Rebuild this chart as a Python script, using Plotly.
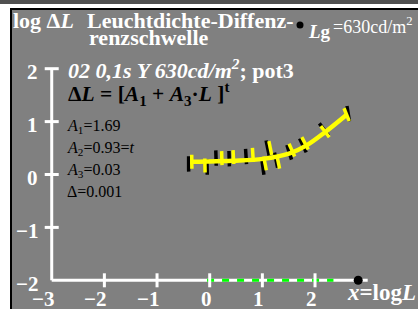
import numpy as np
import plotly.graph_objects as go

W, H = 418, 309

# ---------------- data ----------------
curve_x = [-0.37, -0.06, 0.44, 1.01, 1.52, 1.84, 2.19, 2.60]
curve_y = [0.24, 0.245, 0.26, 0.295, 0.40, 0.55, 0.80, 1.13]

yellow_x = [-0.34, -0.09, 0.23, 0.45, 0.82, 1.05, 1.15, 1.30, 1.56, 1.81, 2.19, 2.60]
yellow_y = [0.24, 0.17, 0.31, 0.33, 0.37, 0.21, 0.50, 0.24, 0.46, 0.59, 0.81, 1.13]

black_x = [-0.40, -0.05, 0.12, 0.37, 0.69, 1.01, 1.10, 1.26, 1.51, 1.77, 2.17, 2.63]
black_y = [0.20, 0.14, 0.31, 0.30, 0.34, 0.14, 0.50, 0.27, 0.42, 0.55, 0.85, 1.15]

x_ticks = [-3, -2, -1, 0, 1, 2]
x_tick_labels = ["−3", "−2", "−1", "0", "1", "2"]
y_ticks = [2, 1, 0, -1, -2]
y_tick_labels = ["2", "1", "0", "−1", "−2"]

axis_x_span = [-3, 3]
axis_y_span = [-2, 2]
green_x = [-0.05, 2.35]
axis_dot_x = [2.82]

# ---------------- geometry helpers ----------------
X0_PX, X_UNIT = 209.7, 52.66
Y0_PX, Y_UNIT = 174.5, 52.9
x_range = [(0 - X0_PX) / X_UNIT, (W - X0_PX) / X_UNIT]
y_range = [(Y0_PX - H) / Y_UNIT, (Y0_PX - 0) / Y_UNIT]


def px(x):
    return x / W


def py(y):
    return 1 - y / H


FONT = "Liberation Serif, Times New Roman, serif"
GRAY = "#808080"

fig = go.Figure()

# axis lines
base_y = axis_y_span[0]
fig.add_trace(go.Scatter(x=axis_x_span, y=[base_y, base_y], mode="lines",
                         line=dict(color="white", width=3), hoverinfo="skip"))
fig.add_trace(go.Scatter(x=[axis_x_span[0], axis_x_span[0]], y=axis_y_span, mode="lines",
                         line=dict(color="white", width=3), hoverinfo="skip"))
# green dashed range
fig.add_trace(go.Scatter(x=green_x, y=[base_y, base_y], mode="lines",
                         line=dict(color="#00ff00", width=3, dash="7px,8px"), hoverinfo="skip"))
# ticks
fig.add_trace(go.Scatter(x=x_ticks[1:], y=[base_y] * (len(x_ticks) - 1), mode="markers",
                         marker=dict(symbol="line-ns", size=10, line=dict(color="white", width=3)),
                         hoverinfo="skip"))
fig.add_trace(go.Scatter(x=[axis_x_span[0]] * (len(y_ticks) - 1), y=y_ticks[:-1], mode="markers",
                         marker=dict(symbol="line-ew", size=10, line=dict(color="white", width=3)),
                         hoverinfo="skip"))
# end dot
fig.add_trace(go.Scatter(x=axis_dot_x, y=[base_y], mode="markers",
                         marker=dict(color="black", size=9), hoverinfo="skip"))


# marker orientation: perpendicular to curve
def perp_angles(xs):
    cx = np.array(curve_x)
    cy = np.array(curve_y)
    d = 0.05
    out = []
    for x in xs:
        y1 = np.interp(x - d, cx, cy)
        y2 = np.interp(x + d, cx, cy)
        th = np.degrees(np.arctan2((y2 - y1) * Y_UNIT, 2 * d * X_UNIT))
        out.append(-th)
    return out


fig.add_trace(go.Scatter(x=black_x, y=black_y, mode="markers",
                         marker=dict(symbol="line-ns", size=11, angle=perp_angles(black_x),
                                     line=dict(color="black", width=3.5)), hoverinfo="skip"))
fig.add_trace(go.Scatter(x=curve_x, y=curve_y, mode="lines", line_shape="spline",
                         line=dict(color="#ffff00", width=4.5), hoverinfo="skip"))
fig.add_trace(go.Scatter(x=yellow_x, y=yellow_y, mode="markers",
                         marker=dict(symbol="line-ns", size=10, angle=perp_angles(yellow_x),
                                     line=dict(color="#ffff00", width=3.5)), hoverinfo="skip"))

shapes = [
    # white frame (left + top)
    dict(type="rect", xref="paper", yref="paper", x0=0, x1=px(10), y0=-0.01, y1=1,
         fillcolor="white", line_width=0, layer="below"),
    dict(type="rect", xref="paper", yref="paper", x0=0, x1=1.01, y0=py(8), y1=1,
         fillcolor="white", line_width=0, layer="below"),
    # dark strip at very top
    dict(type="rect", xref="paper", yref="paper", x0=0, x1=1.01, y0=py(4), y1=1,
         fillcolor="#505050", line_width=0, layer="below"),
    # black border lines
    dict(type="rect", xref="paper", yref="paper", x0=px(10), x1=px(12), y0=-0.01, y1=py(8),
         fillcolor="black", line_width=0, layer="below"),
    dict(type="rect", xref="paper", yref="paper", x0=px(10), x1=1.01, y0=py(10), y1=py(8),
         fillcolor="black", line_width=0, layer="below"),
    dict(type="circle", xref="paper", yref="paper", x0=px(296.5), x1=px(303.5),
         y0=py(28.5), y1=py(21.5), fillcolor="black", line_width=0),
]

ann = []


def txt(text, x, y, size, color="white", xanchor="left"):
    ann.append(dict(text=text, x=px(x), y=py(y), xref="paper", yref="paper",
                    xanchor=xanchor, yanchor="middle", showarrow=False,
                    font=dict(family=FONT, size=size, color=color)))


# tick labels via data coords
for v, lab in zip(x_ticks, x_tick_labels):
    ann.append(dict(text="<b>%s</b>" % lab, x=v, y=base_y, xref="x", yref="y",
                    xanchor="right", yanchor="middle", xshift=4, yshift=-19, showarrow=False,
                    font=dict(family=FONT, size=21, color="white")))
for v, lab in zip(y_ticks, y_tick_labels):
    ann.append(dict(text="<b>%s</b>" % lab, x=axis_x_span[0], y=v, xref="x", yref="y",
                    xanchor="right", yanchor="middle", xshift=-12, yshift=-3.5, showarrow=False,
                    font=dict(family=FONT, size=21, color="white")))

txt("<b>log Δ<i>L</i></b>", 11, 21, 22)
txt("<b>Leuchtdichte-Diffenz-</b>", 85, 21, 22)
txt("<b>renzschwelle</b>", 87, 38, 22)
txt("<b><i>L</i>g</b>", 306, 31, 19)
txt("=630cd/m<sup>2</sup>", 331, 25, 18)
txt("<b><i>02 0,1s Y 630cd/m<sup>2</sup></i>; pot3</b>", 66, 69, 22)
txt("<b>Δ<i>L</i> = [<i>A</i><sub>1</sub> + <i>A</i><sub>3</sub>·<i>L</i> ]<sup>t</sup></b>", 66, 94, 21.5, "black")
txt("<i>A</i><sub>1</sub>=1.69", 65, 126, 16, "black")
txt("<i>A</i><sub>2</sub>=0.93=<i>t</i>", 65, 148, 16, "black")
txt("<i>A</i><sub>3</sub>=0.03", 65, 170, 16, "black")
txt("Δ=0.001", 65, 192, 16, "black")
txt("<b><i>x</i>=log<i>L</i></b>", 345, 292, 23)

fig.update_layout(
    width=W, height=H, margin=dict(l=0, r=0, t=0, b=0),
    paper_bgcolor=GRAY, plot_bgcolor="rgba(0,0,0,0)",
    showlegend=False,
    xaxis=dict(range=x_range, domain=[0, 1], visible=False, fixedrange=True),
    yaxis=dict(range=y_range, domain=[0, 1], visible=False, fixedrange=True),
    shapes=shapes, annotations=ann,
)

post = """
var st = document.createElement('style');
st.textContent = 'html,body{margin:0;padding:0;overflow:hidden;background:#808080;}' +
  '::-webkit-scrollbar{width:0;height:0;display:none;}';
document.head.appendChild(st);
var gd = document.getElementById('{plot_id}');
gd.style.position = 'fixed'; gd.style.left = '0px'; gd.style.top = '0px';
"""

fig.write_html("out.html", config={"displayModeBar": False}, post_script=post)
